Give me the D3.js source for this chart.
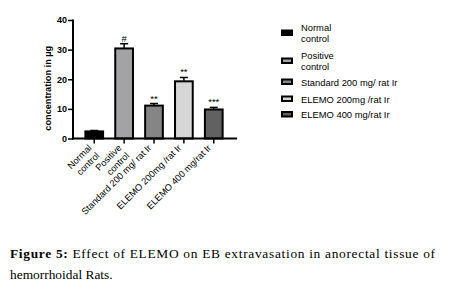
<!DOCTYPE html>
<html>
<head>
<meta charset="utf-8">
<script src="https://cdn.jsdelivr.net/npm/d3@7"></script>
<style>
  body { margin: 0; background: #fff; }
  svg { display: block; }
</style>
</head>
<body>
<svg id="chart" width="459" height="297"></svg>
<script>
// data
var groups = ["Normal control", "Positive control", "Standard 200 mg/ rat Ir", "ELEMO 200mg /rat Ir", "ELEMO 400 mg/rat Ir"]
var labelLines = [["Normal", "control"], ["Positive", "control"], ["Standard 200 mg/ rat Ir"], ["ELEMO 200mg /rat Ir"], ["ELEMO 400 mg/rat Ir"]]
var legendLines = [["Normal", "control"], ["Positive", "control"], ["Standard 200 mg/ rat Ir"], ["ELEMO 200mg /rat Ir"], ["ELEMO 400 mg/rat Ir"]]
var means = [2.4, 30.4, 11.1, 19.3, 9.8]
var errors = [0.3, 1.6, 0.7, 1.3, 0.7]
var marks = ["", "#", "**", "**", "***"]
var fills = ["#000000", "#a3a3a6", "#858585", "#d6d6d6", "#616161"]
var yTicks = [0, 10, 20, 30, 40]

var svg = d3.select("#chart")

var dims = { left: 73, right: 237, top: 20, bottom: 138.5 }
var sans = "'Liberation Sans', Arial, sans-serif"

var xScale = d3.scaleBand()
    .domain(groups)
    .range([dims.left + 3, dims.right - 5])
    .paddingInner(0.34)
    .paddingOuter(0.28)

var yScale = d3.scaleLinear()
    .domain([0, 40])
    .range([dims.bottom, dims.top])

// bars
svg.append("g")
    .selectAll("rect")
    .data(groups)
    .enter()
    .append("rect")
    .attr("x", d => xScale(d) + 1)
    .attr("width", xScale.bandwidth() - 2)
    .attr("y", (d, i) => yScale(means[i]))
    .attr("height", (d, i) => dims.bottom - yScale(means[i]))
    .attr("fill", (d, i) => fills[i])
    .attr("stroke", "#000")
    .attr("stroke-width", 2)

// error bars (upper only)
var cx = d => xScale(d) + xScale.bandwidth() / 2
var err = svg.append("g").attr("stroke", "#000").attr("stroke-width", 1.5)
groups.forEach(function (d, i) {
    err.append("line")
        .attr("x1", cx(d)).attr("x2", cx(d))
        .attr("y1", yScale(means[i])).attr("y2", yScale(means[i] + errors[i]))
    err.append("line")
        .attr("x1", cx(d) - 4).attr("x2", cx(d) + 4)
        .attr("y1", yScale(means[i] + errors[i])).attr("y2", yScale(means[i] + errors[i]))
})

// significance marks
svg.append("g")
    .selectAll("text")
    .data(groups)
    .enter()
    .append("text")
    .attr("x", d => cx(d))
    .attr("y", (d, i) => yScale(means[i] + errors[i]) - 2)
    .attr("text-anchor", "middle")
    .style("font-family", sans)
    .style("font-size", "9.5px")
    .text((d, i) => marks[i])

// y axis
var yAxis = svg.append("g")
    .attr("transform", "translate(" + dims.left + ",0)")
    .call(d3.axisLeft(yScale).tickValues(yTicks).tickSize(5).tickPadding(1))
yAxis.select(".domain").attr("stroke-width", 2).attr("d", "M0," + (dims.bottom + 1) + "V" + (dims.top - 0.5))
yAxis.selectAll(".tick line").attr("stroke-width", 1.5)
yAxis.selectAll(".tick text")
    .style("font-family", sans)
    .style("font-size", "9px")
    .style("font-weight", "bold")
    .attr("fill", "#000")

// x axis
var xAxis = svg.append("g")
    .attr("transform", "translate(0," + dims.bottom + ")")
    .call(d3.axisBottom(xScale).tickSize(5).tickFormat(""))
xAxis.select(".domain").attr("stroke-width", 2).attr("d", "M" + (dims.left - 1) + ",0H" + dims.right)
xAxis.selectAll(".tick line").attr("stroke-width", 1.5)

// rotated category labels
groups.forEach(function (d, i) {
    var t = svg.append("text")
        .attr("transform", "translate(" + (cx(d) - 2) + "," + (dims.bottom + 10) + ") rotate(-45)")
        .attr("text-anchor", "end")
        .style("font-family", sans)
        .style("font-size", "9.2px")
        .attr("fill", "#000")
    labelLines[i].forEach(function (line, j) {
        t.append("tspan")
            .attr("x", 0)
            .attr("y", j * 11)
            .text(line)
    })
})

// y title
svg.append("text")
    .attr("transform", "translate(51," + (dims.top + dims.bottom + 18) / 2 + ") rotate(-90)")
    .attr("text-anchor", "middle")
    .style("font-family", sans)
    .style("font-size", "9.2px")
    .style("font-weight", "bold")
    .text("concentration in µg")

// legend
var legendY = [33, 61, 82, 99, 114.5]
var legend = svg.append("g")
groups.forEach(function (d, i) {
    legend.append("rect")
        .attr("x", 282)
        .attr("y", legendY[i] - 2.5)
        .attr("width", 10)
        .attr("height", 4.5)
        .attr("fill", fills[i])
        .attr("stroke", "#000")
        .attr("stroke-width", 2)
    var lines = legendLines[i]
    var t = legend.append("text")
        .style("font-family", sans)
        .style("font-size", "9.4px")
        .attr("fill", "#000")
    lines.forEach(function (line, j) {
        t.append("tspan")
            .attr("x", 301)
            .attr("y", legendY[i] + 3.5 + (j - (lines.length - 1) / 2) * 11.5)
            .text(line)
    })
})

// caption
var cap = svg.append("g")
    .style("font-family", "'Liberation Serif', 'Times New Roman', serif")
    .style("font-size", "13.4px")
    .attr("fill", "#000")
var line1 = cap.append("text")
    .attr("x", 10)
    .attr("y", 258)
    .attr("textLength", 425)
    .attr("lengthAdjust", "spacing")
line1.append("tspan").style("font-weight", "bold").text("Figure 5:")
line1.append("tspan").text(" Effect of ELEMO on EB extravasation in anorectal tissue of")
cap.append("text")
    .attr("x", 10)
    .attr("y", 278.5)
    .text("hemorrhoidal Rats.")
</script>
</body>
</html>
